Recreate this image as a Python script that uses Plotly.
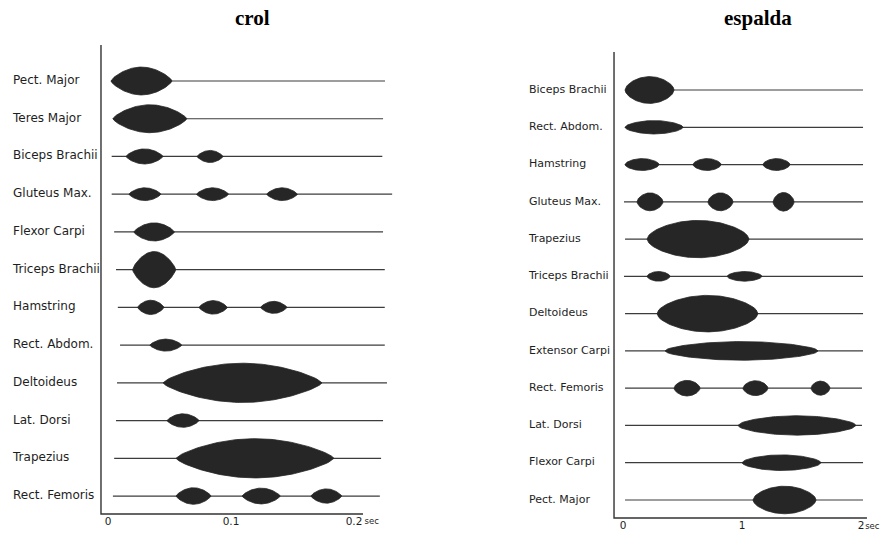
import numpy as np
import plotly.graph_objects as go

# ---------------- data: EMG activity of muscles during one stroke cycle ----------------
# each burst: (onset s, offset s, relative half-amplitude in row units)

crol_muscles = ["Pect. Major", "Teres Major", "Biceps Brachii", "Gluteus Max.",
                "Flexor Carpi", "Triceps Brachii", "Hamstring", "Rect. Abdom.",
                "Deltoideus", "Lat. Dorsi", "Trapezius", "Rect. Femoris"]
crol_trace_span = [(0.0024, 0.2252), (0.004, 0.2236), (0.003, 0.223), (0.003, 0.231),
                   (0.005, 0.2236), (0.0065, 0.225), (0.008, 0.225), (0.0098, 0.225),
                   (0.0073, 0.2268), (0.0065, 0.2236), (0.005, 0.222), (0.004, 0.221)]
crol_bursts = [
    [(0.0024, 0.052, 0.37)],
    [(0.004, 0.064, 0.37)],
    [(0.0146, 0.0447, 0.20), (0.0724, 0.0935, 0.16)],
    [(0.017, 0.043, 0.17), (0.072, 0.098, 0.17), (0.129, 0.154, 0.17)],
    [(0.021, 0.054, 0.24)],
    [(0.020, 0.055, 0.48)],
    [(0.024, 0.0455, 0.19), (0.074, 0.097, 0.18), (0.124, 0.1455, 0.16)],
    [(0.034, 0.060, 0.16)],
    [(0.0447, 0.174, 0.52)],
    [(0.048, 0.074, 0.18)],
    [(0.0553, 0.1837, 0.52)],
    [(0.0553, 0.0837, 0.22), (0.109, 0.140, 0.21), (0.165, 0.190, 0.19)],
]
crol_tickvals = [0, 0.1, 0.2]
crol_ticktext = ["0", "0.1", "0.2"]

espalda_muscles = ["Biceps Brachii", "Rect. Abdom.", "Hamstring", "Gluteus Max.",
                   "Trapezius", "Triceps Brachii", "Deltoideus", "Extensor Carpi",
                   "Rect. Femoris", "Lat. Dorsi", "Flexor Carpi", "Pect. Major"]
espalda_trace_span = [(0.017, 2.017), (0.017, 2.017), (0.017, 2.017), (0.008, 2.017),
                      (0.017, 2.017), (0.008, 2.017), (0.017, 2.017), (0.017, 2.017),
                      (0.017, 2.008), (0.017, 2.008), (0.017, 2.017), (0.017, 2.017)]
espalda_bursts = [
    [(0.017, 0.429, 0.36)],
    [(0.017, 0.504, 0.18)],
    [(0.017, 0.303, 0.16), (0.588, 0.824, 0.16), (1.176, 1.403, 0.16)],
    [(0.118, 0.336, 0.24), (0.714, 0.924, 0.24), (1.261, 1.437, 0.25)],
    [(0.202, 1.059, 0.50)],
    [(0.202, 0.395, 0.13), (0.874, 1.168, 0.13)],
    [(0.286, 1.134, 0.49)],
    [(0.353, 1.639, 0.25)],
    [(0.429, 0.647, 0.21), (1.008, 1.218, 0.20), (1.580, 1.739, 0.19)],
    [(0.966, 1.958, 0.26)],
    [(1.000, 1.664, 0.21)],
    [(1.092, 1.622, 0.37)],
]
espalda_tickvals = [0, 1, 2]
espalda_ticktext = ["0", "1", "2"]

# ---------------- styling ----------------
INK = "#262626"
LINE = "#3c3c3c"
TICK_FONT = dict(family="DejaVu Sans", size=10.5, color="#1e1e1e")
TITLE_FONT = dict(family="Liberation Serif", size=21, color="#000000")


def spindle(t0, t1, amp, row, power, n=61):
    """Closed outline of one activity burst centred on a muscle's row."""
    u = np.linspace(0.0, 1.0, n)
    p = np.sin(np.pi * u) ** power
    x = t0 + u * (t1 - t0)
    xs = np.concatenate([x, x[::-1], [x[0]]])
    ys = np.concatenate([row - amp * p, (row + amp * p)[::-1], [row]])
    return xs.tolist(), ys.tolist()


def panel_traces(muscles, spans, bursts, xa, ya, label_x, label_size, power):
    traces = []
    lx, ly = [], []
    for r, (a, b) in enumerate(spans):
        lx += [a, b, None]
        ly += [r, r, None]
    traces.append(go.Scatter(x=lx, y=ly, mode="lines", xaxis=xa, yaxis=ya,
                             line=dict(color=LINE, width=1.2), hoverinfo="skip"))
    bx, by = [], []
    for r, row_bursts in enumerate(bursts):
        for t0, t1, amp in row_bursts:
            xs, ys = spindle(t0, t1, amp, r, power)
            bx += xs + [None]
            by += ys + [None]
    traces.append(go.Scatter(x=bx, y=by, mode="lines", fill="toself", fillcolor=INK,
                             xaxis=xa, yaxis=ya, line=dict(color=INK, width=0.8),
                             hoverinfo="skip"))
    traces.append(go.Scatter(x=[label_x] * len(muscles), y=list(range(len(muscles))),
                             mode="text", text=muscles, textposition="middle right",
                             textfont=dict(family="DejaVu Sans", size=label_size,
                                           color="#1e1e1e"),
                             xaxis=xa, yaxis=ya, cliponaxis=False, hoverinfo="skip"))
    return traces


def axis_frame(x0, x_end, y_top, y_base, xa, ya, tickvals, ticktext, tick_y, unit_x):
    frame = go.Scatter(x=[x0, x0, x_end], y=[y_top, y_base, y_base], mode="lines",
                       xaxis=xa, yaxis=ya, line=dict(color="#333333", width=1.4),
                       hoverinfo="skip")
    ticks = go.Scatter(x=tickvals, y=[tick_y] * len(tickvals), mode="text",
                       text=ticktext, textposition="middle center", textfont=TICK_FONT,
                       xaxis=xa, yaxis=ya, cliponaxis=False, hoverinfo="skip")
    unit = go.Scatter(x=[unit_x], y=[tick_y], mode="text", text=["sec"],
                      textposition="middle right",
                      textfont=dict(family="DejaVu Sans", size=8.5, color="#1e1e1e"),
                      xaxis=xa, yaxis=ya, cliponaxis=False, hoverinfo="skip")
    return [frame, ticks, unit]


fig = go.Figure()
for tr in panel_traces(crol_muscles, crol_trace_span, crol_bursts, "x", "y",
                       -0.0772, 12, 0.72):
    fig.add_trace(tr)
for tr in axis_frame(-0.0057, 0.2073, -0.954, 11.476, "x", "y",
                     crol_tickvals, crol_ticktext, 11.69, 0.2085):
    fig.add_trace(tr)
for tr in panel_traces(espalda_muscles, espalda_trace_span, espalda_bursts, "x2", "y2",
                       -0.790, 11, 0.55):
    fig.add_trace(tr)
for tr in axis_frame(-0.0756, 2.05, -1.02, 11.484, "x2", "y2",
                     espalda_tickvals, espalda_ticktext, 11.72, 2.035):
    fig.add_trace(tr)

hidden = dict(visible=False, showgrid=False, zeroline=False, fixedrange=True)
fig.update_layout(
    width=881, height=533,
    margin=dict(l=0, r=0, t=0, b=0),
    paper_bgcolor="white", plot_bgcolor="white",
    showlegend=False,
    xaxis=dict(domain=[0, 440 / 881], range=[-0.0878, 0.2699], **hidden),
    yaxis=dict(domain=[0, 1], range=[11.98, -2.147], **hidden),
    xaxis2=dict(domain=[440 / 881, 1], range=[-1.538, 2.168], anchor="y2", **hidden),
    yaxis2=dict(domain=[0, 1], range=[11.886, -2.415], anchor="x2", **hidden),
    annotations=[
        dict(text="<b>crol</b>", x=252 / 881, y=1 - 18 / 533, xref="paper", yref="paper",
             showarrow=False, font=TITLE_FONT, xanchor="center", yanchor="middle"),
        dict(text="<b>espalda</b>", x=758 / 881, y=1 - 18 / 533, xref="paper", yref="paper",
             showarrow=False, font=TITLE_FONT, xanchor="center", yanchor="middle"),
    ],
)

fig.write_html("out.html")
